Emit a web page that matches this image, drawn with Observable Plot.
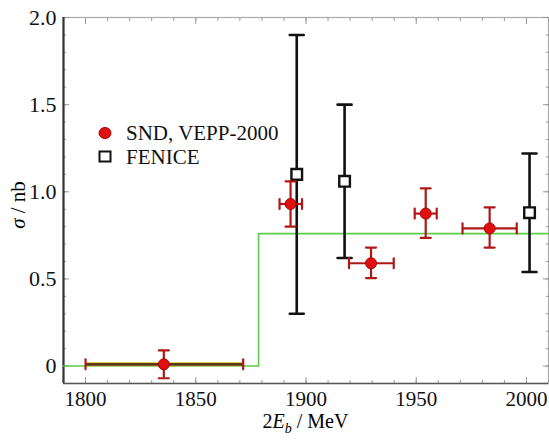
<!DOCTYPE html>
<html><head><meta charset="utf-8">
<script src="https://cdn.jsdelivr.net/npm/d3@7"></script>
<script src="https://cdn.jsdelivr.net/npm/@observablehq/plot@0.6"></script>
<style>
body{margin:0;background:#fff;}
#wrap{position:relative;width:549px;height:441px;font-family:"Liberation Serif","DejaVu Serif",serif;}
.leg{position:absolute;font-size:21px;color:#111;white-space:nowrap;line-height:22px;}
.xlab{position:absolute;left:63px;width:485px;text-align:center;top:410px;font-size:20px;}
.ylab{position:absolute;left:18px;top:205px;transform:translate(-50%,-50%) rotate(-90deg);font-size:21px;white-space:nowrap;}
</style></head>
<body><div id="wrap"></div>
<script>
// SND, VEPP-2000 (red)
const sndX   = [1835.5, 1893, 1929.5, 1954.3, 1983.3];
const sndXlo = [1800, 1888, 1919.5, 1949.3, 1971];
const sndXhi = [1871.5, 1898.2, 1939.8, 1959.3, 1995.6];
const sndY   = [0.01, 0.93, 0.59, 0.875, 0.79];
const sndYlo = [-0.07, 0.80, 0.505, 0.735, 0.68];
const sndYhi = [0.09, 1.06, 0.68, 1.02, 0.91];
// FENICE (black open squares)
const fenX   = [1895.8, 1917.5, 2001.4];
const fenY   = [1.10, 1.06, 0.88];
const fenYlo = [0.30, 0.62, 0.54];
const fenYhi = [1.90, 1.50, 1.22];
// green step curve
const fitX = [1790, 1878.5, 2010];
const fitY = [0, 0.76, 0.76];
// axes
const xDomain = [1790, 2010];
const yDomain = [-0.1, 2.0];
const xMajor = [1800, 1850, 1900, 1950, 2000];
const xMinor = d3.range(1790, 2011, 10);
const yMajor = [0, 0.5, 1.0, 1.5, 2.0];
const yMinor = d3.range(-0.1, 2.001, 0.1).map(v => +v.toFixed(2));

const snd = sndX.map((x, i) => ({x, xlo: sndXlo[i], xhi: sndXhi[i], y: sndY[i], ylo: sndYlo[i], yhi: sndYhi[i]}));
const fen = fenX.map((x, i) => ({x, y: fenY[i], ylo: fenYlo[i], yhi: fenYhi[i]}));
const fit = fitX.map((x, i) => ({x, y: fitY[i]}));
// the wide first bin's horizontal bar sits on the fit line and looks dark olive
const sndWide = snd.filter(d => d.xhi - d.xlo > 40);

const capShape = {draw(ctx, l) { ctx.moveTo(0, 0); ctx.lineTo(0, -l); }};
const RED = "#b01818", DOT = "#e01010";

const chart = Plot.plot({
  width: 549, height: 441,
  marginLeft: 63, marginRight: 1, marginTop: 17, marginBottom: 58,
  style: {fontFamily: "'Liberation Serif', serif", fontSize: "21px", color: "#111", background: "#fff"},
  x: {domain: xDomain},
  y: {domain: yDomain},
  marks: [
    Plot.frame({stroke: "#aaa", strokeWidth: 1.2}),
    // minor ticks
    Plot.axisX(xMinor, {anchor: "bottom", tickSize: -3, text: null, stroke: "#999", label: null}),
    Plot.axisX(xMinor, {anchor: "top", tickSize: -3, text: null, stroke: "#999", label: null}),
    Plot.axisY(yMinor, {anchor: "left", tickSize: -3, text: null, stroke: "#999", label: null}),
    Plot.axisY(yMinor, {anchor: "right", tickSize: -3, text: null, stroke: "#999", label: null}),
    // major ticks
    Plot.axisX(xMajor, {anchor: "bottom", tickSize: -6, tickPadding: 14, stroke: "#999", label: null, tickFormat: d => String(d), fontSize: 21}),
    Plot.axisX(xMajor, {anchor: "top", tickSize: -6, text: null, stroke: "#999", label: null}),
    Plot.axisY(yMajor, {anchor: "left", tickSize: -6, tickPadding: 13, stroke: "#999", label: null, tickFormat: d => d === 0 ? "0" : d.toFixed(1), fontSize: 22}),
    Plot.axisY(yMajor, {anchor: "right", tickSize: -6, text: null, stroke: "#999", label: null}),
    // dark left/bottom axis lines
    Plot.ruleX([xDomain[0]], {stroke: "#333", strokeWidth: 2.2}),
    Plot.ruleY([yDomain[0]], {stroke: "#555", strokeWidth: 1.6}),
    // fit curve
    Plot.line(fit, {x: "x", y: "y", curve: "step-after", stroke: "#5ccc4a", strokeWidth: 1.6}),
    // FENICE error bars
    Plot.ruleX(fen, {x: "x", y1: "ylo", y2: "yhi", stroke: "#111", strokeWidth: 2.6}),
    Plot.vector(fen, {x: "x", y: "ylo", length: 14, rotate: 90, anchor: "middle", shape: capShape, stroke: "#111", strokeWidth: 2.6}),
    Plot.vector(fen, {x: "x", y: "yhi", length: 14, rotate: 90, anchor: "middle", shape: capShape, stroke: "#111", strokeWidth: 2.6}),
    Plot.dot(fen, {x: "x", y: "y", symbol: "square", r: 6, stroke: "#111", strokeWidth: 2.4, fill: "#fff"}),
    // SND error bars
    Plot.ruleY(sndWide, {y: "y", x1: "xlo", x2: "xhi", stroke: "#d8d060", strokeWidth: 4.5}),
    Plot.ruleY(snd, {y: "y", x1: "xlo", x2: "xhi", stroke: RED, strokeWidth: 2.2}),
    Plot.ruleY(sndWide, {y: "y", x1: "xlo", x2: "xhi", stroke: "#4a3a14", strokeWidth: 2.4}),
    Plot.ruleX(snd, {x: "x", y1: "ylo", y2: "yhi", stroke: RED, strokeWidth: 2.2}),
    Plot.vector(snd, {x: "x", y: "ylo", length: 10, rotate: 90, anchor: "middle", shape: capShape, stroke: RED, strokeWidth: 2.2}),
    Plot.vector(snd, {x: "x", y: "yhi", length: 10, rotate: 90, anchor: "middle", shape: capShape, stroke: RED, strokeWidth: 2.2}),
    Plot.vector(snd, {x: "xlo", y: "y", length: 10, rotate: 0, anchor: "middle", shape: capShape, stroke: RED, strokeWidth: 2.2}),
    Plot.vector(snd, {x: "xhi", y: "y", length: 10, rotate: 0, anchor: "middle", shape: capShape, stroke: RED, strokeWidth: 2.2}),
    Plot.dot(snd, {x: "x", y: "y", r: 5.5, fill: DOT, stroke: "#a00", strokeWidth: 1})
  ]
});

const wrap = document.getElementById("wrap");
wrap.appendChild(chart);
const legend = [
  {label: "SND, VEPP-2000", top: 120, sym: `<svg width="16" height="16" style="vertical-align:middle"><ellipse cx="8" cy="8" rx="6" ry="5.5" fill="${DOT}" stroke="#a00"/></svg>`},
  {label: "FENICE", top: 144, sym: `<svg width="16" height="16" style="vertical-align:middle"><rect x="2.5" y="2.5" width="11" height="10" fill="#fff" stroke="#111" stroke-width="2"/></svg>`}
];
legend.forEach(l => {
  const d = document.createElement("div");
  d.className = "leg";
  d.style.left = "97px"; d.style.top = l.top + "px";
  d.innerHTML = l.sym + `<span style="margin-left:13px;vertical-align:middle">${l.label}</span>`;
  wrap.appendChild(d);
});
const xl = document.createElement("div"); xl.className = "xlab";
xl.innerHTML = "2<i>E</i><sub style='font-size:14px'><i>b</i></sub> / MeV";
wrap.appendChild(xl);
const yl = document.createElement("div"); yl.className = "ylab";
yl.innerHTML = "<i>σ</i> / nb";
wrap.appendChild(yl);
</script></body></html>
